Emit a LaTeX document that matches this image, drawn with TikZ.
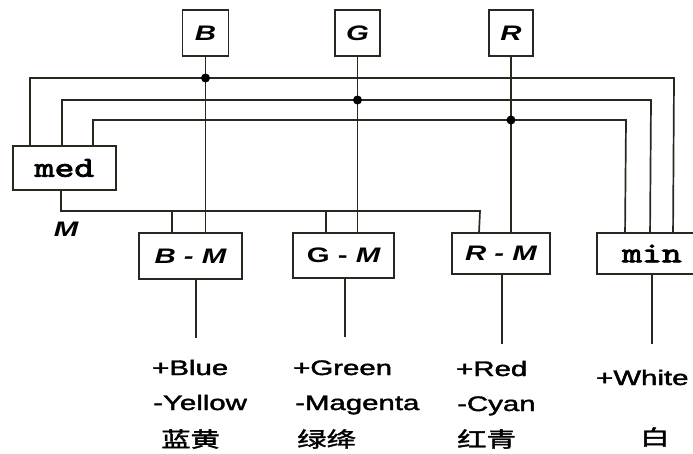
\documentclass[tikz,border=0pt]{standalone}
\usepackage{fontspec}
\usepackage{graphicx}
\setmainfont{Liberation Sans}[FakeBold=1.6]
\newfontfamily\plainsans{Liberation Sans}
\newfontfamily\monof{lmmono10-regular.otf}[FakeBold=2.5]
\newfontfamily\cjk{Noto Sans CJK SC}[FakeBold=1.6]
\newcommand\hs[1]{\scalebox{1.4}[1]{#1}}
\newcommand\hsm[1]{\scalebox{1.3}[1]{#1}}
\definecolor{linec}{RGB}{40,40,30}
\tikzset{
  box/.style={draw=linec, line width=1.9pt, fill=white, inner sep=0pt},
  wire/.style={draw=linec, line width=1.7pt},
  jdot/.style={circle, fill=black, inner sep=0pt, minimum size=9pt},
  lbl/.style={anchor=base west, inner sep=0pt, font=\fontsize{21}{25}\selectfont},
  boxtxt/.style={font=\plainsans\bfseries\itshape\fontsize{21}{25}\selectfont},
  monotxt/.style={font=\monof\fontsize{29}{32}\selectfont}
}
\begin{document}
\begin{tikzpicture}[x=1pt,y=-1pt]
\useasboundingbox (0,0) rectangle (693,453);
\clip (0,0) rectangle (693,453);

% top input boxes
\node[box, boxtxt, minimum width=46pt, minimum height=46pt] (B) at (205.5,33) {\hs{B}};
\node[box, boxtxt, minimum width=45pt, minimum height=46pt] (G) at (357.5,33) {\hs{G}};
\node[box, boxtxt, minimum width=44pt, minimum height=46pt] (R) at (511,33) {\hs{R}};

% med and min
\node[box, monotxt, minimum width=103pt, minimum height=44pt] (med) at (64.5,168) {\hsm{med}};
\node[box, monotxt, minimum width=110pt, minimum height=41pt] (min) at (652,253.5) {\hsm{min}};

% difference boxes
\node[box, boxtxt, minimum width=103pt, minimum height=46pt] (BM) at (190.5,256) {\hs{B - M}};
\node[box, boxtxt, minimum width=101pt, minimum height=45pt] (GM) at (343.5,255.5) {\hs{\upshape G - \itshape M}};
\node[box, boxtxt, minimum width=98pt, minimum height=41pt] (RM) at (501,253.5) {\hs{R - M}};

% M label
\node[boxtxt, inner sep=0pt] (Mlab) at (66,229) {\hs{M}};

% bus coordinates
\coordinate (c1) at (674,78);
\coordinate (c2) at (651,100);
\coordinate (c3) at (626,120);
\coordinate (c4) at (480,211);

% taps on med top
\coordinate (mt1) at ([xshift=18pt]med.north west);
\coordinate (mt2) at ([xshift=50pt]med.north west);
\coordinate (mt3) at ([xshift=81pt]med.north west);
\coordinate (mb) at ([xshift=-3.5pt]med.south);
% taps on min top
\coordinate (nt1) at ([xshift=77pt]min.north west);
\coordinate (nt2) at ([xshift=54pt]min.north west);
\coordinate (nt3) at ([xshift=29pt]min.north west);
% M taps on difference boxes
\coordinate (tB) at ([xshift=34pt]BM.north west);
\coordinate (tG) at ([xshift=34pt]GM.north west);
\coordinate (tR) at ([xshift=28pt]RM.north west);

% three buses between med and min
\draw[wire] (mt1) |- (c1) -- (nt1);
\draw[wire] (mt2) |- (c2) -- (nt2);
\draw[wire] (mt3) |- (c3) -- (nt3);

% med output M
\draw[wire] (mb) |- (c4) -- (tR);
\draw[wire] (tB) -- (tB |- c4);
\draw[wire] (tG) -- (tG |- c4);

% B, G, R down into difference boxes
\draw[wire] (B.south) -- (B.south |- BM.north);
\draw[wire] (G.south) -- (G.south |- GM.north);
\draw[wire] (R.south) -- (R.south |- RM.north);

% junction dots
\node[jdot] (dB) at (B.south |- c1) {};
\node[jdot] (dG) at (G.south |- c2) {};
\node[jdot] (dR) at (R.south |- c3) {};

% output lines
\coordinate (eB) at (196,338);
\coordinate (eG) at (345,337);
\coordinate (eR) at (502,344);
\coordinate (eW) at (652,344);
\draw[wire] (BM.south -| eB) -- (eB);
\draw[wire] (GM.south -| eG) -- (eG);
\draw[wire] (RM.south -| eR) -- (eR);
\draw[wire] (min.south -| eW) -- (eW);

% output labels
\node[lbl] (tB1) at (152,375) {\hs{+Blue}};
\node[lbl] (tB2) at (153,410) {\hs{-Yellow}};
\node[lbl] (tB3) at (161,447) {\hs{\cjk 蓝黄}};

\node[lbl] (tG1) at (293,375) {\hs{+Green}};
\node[lbl] (tG2) at (295,410) {\hs{-Magenta}};
\node[lbl] (tG3) at (297,447) {\hs{\cjk 绿绛}};

\node[lbl] (tR1) at (456,376) {\hs{+Red}};
\node[lbl] (tR2) at (457,411) {\hs{-Cyan}};
\node[lbl] (tR3) at (457,447) {\hs{\cjk 红青}};

\node[lbl] (tW1) at (596,385) {\hs{+White}};
\node[lbl] (tW2) at (640,445) {\hs{\cjk 白}};
\end{tikzpicture}
\end{document}
